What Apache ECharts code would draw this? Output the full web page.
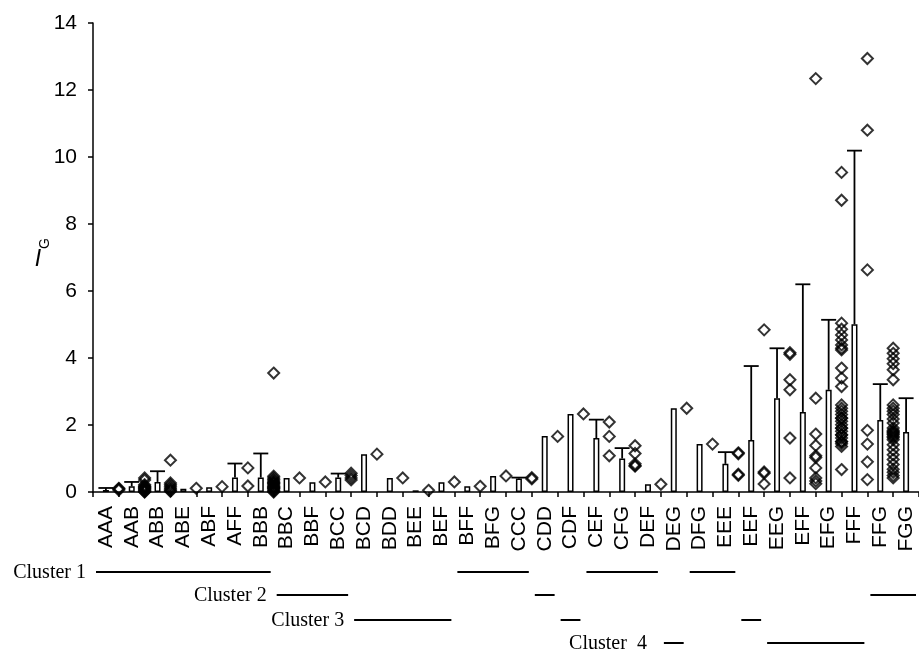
<!DOCTYPE html>
<html><head><meta charset="utf-8">
<script src="https://cdn.jsdelivr.net/npm/echarts@6/dist/echarts.min.js"></script>
<style>html,body{margin:0;padding:0;background:#fff}#c{width:919px;height:654px}</style>
</head><body><div id="c"></div>
<script>
const categories = ['AAA','AAB','ABB','ABE','ABF','AFF','BBB','BBC','BBF','BCC','BCD','BDD','BEE','BEF','BFF','BFG','CCC','CDD','CDF','CEF','CFG','DEF','DEG','DFG','EEE','EEF','EEG','EFF','EFG','FFF','FFG','FGG'];
const means = [0.06,0.17,0.30,0.10,0.14,0.43,0.43,0.42,0.29,0.43,1.13,0.42,0.05,0.29,0.17,0.48,0.40,1.67,2.33,1.61,1.00,0.23,2.50,1.43,0.84,1.55,2.80,2.39,3.05,5.01,2.15,1.79];
const errUp = [0.06,0.13,0.32,0,0,0.42,0.72,0,0,0.12,0,0,0,0,0,0,0.03,0,0,0.55,0.31,0,0,0,0.35,2.21,1.49,3.81,2.09,5.18,1.07,1.01];
const points = [
  [0.09,0.06,0.11],
  [0.42,0.36,0.22,0.16,0.12,0.10,0.08,0.05,0.03,0.01,0.00,0.14,0.18],
  [0.95,0.27,0.22,0.17,0.12,0.08,0.04,0.02],
  [0.11],
  [0.16],
  [0.72,0.18],
  [3.55,0.47,0.42,0.37,0.33,0.29,0.25,0.21,0.17,0.13,0.09,0.05,0.02,0.00,0.11,0.15,0.27],
  [0.42],
  [0.30],
  [0.56,0.49,0.42,0.36],
  [1.13],
  [0.42],
  [0.05],
  [0.30],
  [0.17],
  [0.48],
  [0.43,0.39],
  [1.66],
  [2.33],
  [2.09,1.66,1.08],
  [1.38,1.15,0.84,0.79,0.77],
  [0.23],
  [2.50],
  [1.43],
  [1.17,1.14,0.53,0.50],
  [4.84,0.60,0.56,0.24],
  [4.16,4.11,3.35,3.05,1.61,0.42],
  [12.34,2.80,1.73,1.39,1.08,1.03,0.72,0.42,0.33,0.25],
  [9.54,8.71,5.04,4.86,4.69,4.54,4.39,4.29,4.24,3.70,3.40,3.15,2.60,2.50,2.41,2.31,2.21,2.11,2.01,1.91,1.81,1.71,1.61,1.51,1.44,1.36,1.50,1.70,1.90,2.20,0.67],
  [12.94,10.80,6.63,1.84,1.43,0.90,0.37],
  [4.29,4.14,3.98,3.83,3.65,3.35,2.60,2.50,2.41,2.31,2.18,2.06,1.91,1.84,1.78,1.74,1.71,1.66,1.62,1.56,1.41,1.26,1.11,0.97,0.82,0.68,0.59,0.49,0.42,1.80],
  []
];
const yMin = 0, yMax = 14, yStep = 2;
const yTitleMain = 'I', yTitleSub = 'G';
const clusterNames = ['Cluster 1','Cluster 2','Cluster 3','Cluster  4'];
const clusterMembers = [
  [0,1,2,3,4,5,6,14,15,16,19,20,21,23,24],
  [7,8,9,17,30,31],
  [10,11,12,13,18,25],
  [22,26,27,28,29]
];

const chart = echarts.init(document.getElementById('c'), null, {renderer:'canvas'});
const scatterData = [];
points.forEach((arr,i)=>arr.forEach(v=>scatterData.push([i+1, v])));
const errData = [];
means.forEach((m,i)=>{ if(errUp[i]>0) errData.push([i, m, m+errUp[i]]); });

function renderErr(params, api){
  const x = api.value(0);
  const p0 = api.coord([x, api.value(1)]);
  const p1 = api.coord([x, api.value(2)]);
  const hw = 7.5;
  const st = {stroke:'#000', lineWidth:1.8};
  return {type:'group', children:[
    {type:'line', shape:{x1:p0[0],y1:p0[1],x2:p1[0],y2:p1[1]}, style:st},
    {type:'line', shape:{x1:p1[0]-hw,y1:p1[1],x2:p1[0]+hw,y2:p1[1]}, style:st}
  ]};
}

const font = 'Liberation Sans';
chart.setOption({
  animation:false,
  backgroundColor:'#fff',
  grid:{left:93, right:-6, top:23, bottom:162},
  xAxis:[
    {type:'category', data:categories, boundaryGap:true,
     axisLine:{lineStyle:{color:'#000', width:1.5}},
     axisTick:{show:true, length:5, lineStyle:{color:'#000', width:1.5}},
     axisLabel:{rotate:90, interval:0, margin:14, color:'#000', fontSize:21, fontFamily:font},
     splitLine:{show:false}},
    {type:'value', min:0, max:categories.length, show:false}
  ],
  yAxis:{type:'value', min:yMin, max:yMax, interval:yStep,
    axisLine:{show:true, lineStyle:{color:'#000', width:1.5}},
    axisTick:{show:true, length:5, lineStyle:{color:'#000', width:1.5}},
    axisLabel:{margin:16, color:'#000', fontSize:21, fontFamily:font},
    splitLine:{show:false}},
  series:[
    {type:'bar', xAxisIndex:0, data:means, barWidth:6,
     itemStyle:{color:'#fff', borderColor:'#000', borderWidth:1.5}, z:2},
    {type:'custom', xAxisIndex:0, data:errData, renderItem:renderErr, z:3,
     encode:{x:0, y:[1,2]}},
    {type:'scatter', xAxisIndex:1, data:scatterData, symbol:'diamond', symbolSize:11,
     itemStyle:{color:'rgba(0,0,0,0)', borderColor:'#000', borderWidth:2}, z:4}
  ]
});

function toRuns(arr){
  const s = arr.slice().sort((a,b)=>a-b); const runs=[]; let st=s[0], pv=s[0];
  for(let k=1;k<s.length;k++){ if(s[k]===pv+1){pv=s[k];} else {runs.push([st,pv]); st=s[k]; pv=s[k];} }
  runs.push([st,pv]); return runs;
}
const rowY = [572, 595, 620, 643];
const labelGap = [10, 10, 10, 17];
const graphics = [];
clusterMembers.forEach((mem, r)=>{
  toRuns(mem).forEach((run, k)=>{
    const xs = chart.convertToPixel({xAxisIndex:1}, run[0]) + 3;
    const xe = Math.min(chart.convertToPixel({xAxisIndex:1}, run[1]+1) - 3, 930);
    graphics.push({type:'line', shape:{x1:xs,y1:rowY[r],x2:xe,y2:rowY[r]}, style:{stroke:'#000', lineWidth:2}});
    if(k===0) graphics.push({type:'text', style:{text:clusterNames[r], x:xs-labelGap[r], y:rowY[r]+1, align:'right', verticalAlign:'middle', font:'20px "Liberation Serif"', fill:'#000'}});
  });
});
// y-axis title: italic I with subscript G
const yMid = (chart.convertToPixel({yAxisIndex:0}, yMin) + chart.convertToPixel({yAxisIndex:0}, yMax)) / 2;
graphics.push({type:'text', style:{text:yTitleMain, x:38, y:yMid+2, align:'center', verticalAlign:'middle', font:'italic 23px "Liberation Sans"', fill:'#000'}});
graphics.push({type:'text', x:45, y:yMid-14, rotation:Math.PI/2, style:{text:yTitleSub, x:0, y:0, align:'center', verticalAlign:'middle', font:'14px "Liberation Sans"', fill:'#000'}});
chart.setOption({graphic:graphics});
</script></body></html>
